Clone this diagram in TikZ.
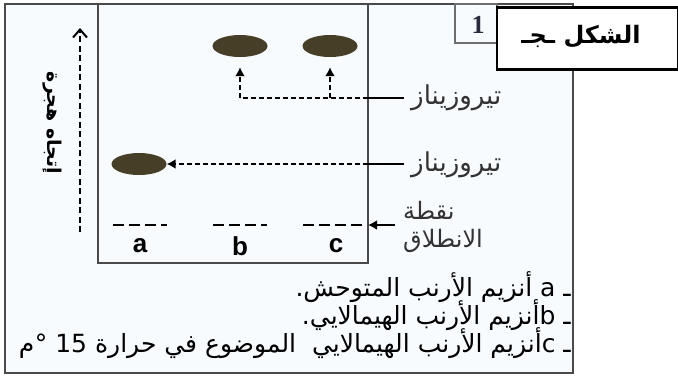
\documentclass[tikz,border=0pt]{standalone}
\usepackage{fontspec}
\setmainfont{Liberation Serif}
\newfontfamily\arabicfont[Script=Arabic]{DejaVu Sans}
\newfontfamily\latinsans{Liberation Sans}
\TeXXeTstate=1
\usetikzlibrary{arrows.meta,shapes.geometric}
\definecolor{spot}{HTML}{463E26}
\definecolor{framegray}{HTML}{4A4A4A}
\definecolor{paper}{HTML}{F7FBFE}
\definecolor{navy}{HTML}{2A2A40}
\tikzset{
  frameline/.style={draw=framegray, line width=1.8pt},
  spotsty/.style={ellipse, fill=spot, minimum width=55pt, minimum height=22pt, inner sep=0pt},
  dashline/.style={line width=1.8pt, dash pattern=on 5pt off 3pt},
  solidline/.style={line width=2.4pt},
  startdash/.style={line width=2.8pt, dash pattern=on 11pt off 5pt},
  tip/.style={-{Latex[length=9pt,width=10pt]}},
  artext/.style={font=\arabicfont\fontsize{26}{28}\selectfont, inner sep=0pt, text=black!80},
  starttext/.style={font=\arabicfont\fontsize{24}{26}\selectfont, inner sep=0pt, text=black!80},
  legtext/.style={font=\arabicfont\fontsize{25}{27}\selectfont, inner sep=0pt, anchor=east},
  lanelab/.style={font=\latinsans\bfseries\fontsize{26}{28}\selectfont, inner sep=0pt}
}
\begin{document}
\begin{tikzpicture}[x=1pt,y=-1pt]
\useasboundingbox (0,0) rectangle (678,376);
\fill[white] (0,0) rectangle (678,376);
% outer frame
\draw[frameline, fill=paper] (5,4) rectangle (573,373);
% plate
\draw[draw=framegray, line width=1.6pt] (98,4) -- (98,263) -- (368,263) -- (368,4);
% box 1
\draw[draw=framegray!80, line width=1.2pt] (455,4) rectangle (497,43);
\node[font=\bfseries\fontsize{26}{28}\selectfont, text=navy, inner sep=0pt] (one) at (478,25) {1};
% title
\node[draw=black, line width=2.6pt, fill=white, minimum width=181pt, minimum height=62pt, inner sep=0pt] (title) at (587.5,38.5) {};
\node[font=\arabicfont\bfseries\fontsize{24}{26}\selectfont] (ttext) at (581,37) {\beginR الشكل ـجـ\endR};
% migration arrow
\coordinate (mbot) at (80,232);
\coordinate (mtop) at (80,28);
\draw[line width=2.6pt, dash pattern=on 6pt off 3.5pt, -{Straight Barb[length=8pt,width=14pt,line width=2pt]}] (mbot) -- (mtop);
\node[font=\arabicfont\bfseries\fontsize{19}{22}\selectfont, rotate=-90, inner sep=0pt] (mig) at (52,123) {\beginR إتجاه هجرة\endR};
% spots
\node[spotsty] (sb) at (240,46) {};
\node[spotsty] (sc) at (330,46) {};
\node[spotsty] (sa) at (139,164) {};
% labels
\node[artext, anchor=west] (t1) at (411,98) {\beginR تيروزيناز\endR};
\node[artext, anchor=west] (t2) at (411,165) {\beginR تيروزيناز\endR};
\node[starttext, anchor=west] (t3) at (403,210) {\beginR نقطة\endR};
\node[starttext, anchor=west] (t4) at (403,241) {\beginR الانطلاق\endR};
% connectors upper
\coordinate (e1) at (368,98);
\coordinate (j1) at (240,98);
\coordinate (j2) at (330,98);
\draw[solidline] ([xshift=-7pt]t1.west) -- (e1);
\draw[dashline] (e1) -- (j1);
\draw[dashline, tip, shorten >=10pt] (j1) -- (sb.south);
\draw[dashline, tip, shorten >=10pt] (j2) -- (sc.south);
% connector lower
\coordinate (e2) at (368,164);
\draw[solidline] ([xshift=-7pt]t2.west |- e2) -- (e2);
\draw[dashline, tip] (e2) -- (sa.east);
% start line
\coordinate (s3) at (395,225);
\coordinate (e3) at (368,225);
\draw[solidline, tip] (s3) -- (e3);
\draw[startdash] (113,225) -- (167,225);
\draw[startdash] (213,225) -- (267,225);
\draw[startdash] (303,225) -- (366,225);
\node[lanelab] (la) at (140,246) {a};
\node[lanelab] (lb) at (240,246) {b};
\node[lanelab] (lc) at (336,246) {c};
% legend
\node[legtext] (l1) at (571,287) {\beginR ـ a أنزيم الأرنب المتوحش\kern0pt.\endR};
\node[legtext] (l2) at (571,315) {\beginR ـ b\kern0ptأنزيم الأرنب الهيمالايي\kern0pt.\endR};
\node[legtext] (l3) at (571,343) {\beginR ـ c\kern0ptأنزيم الأرنب الهيمالايي\ \ الموضوع في حرارة \beginL 15\endL\ °\kern0.5ptم\endR};
\end{tikzpicture}
\end{document}
